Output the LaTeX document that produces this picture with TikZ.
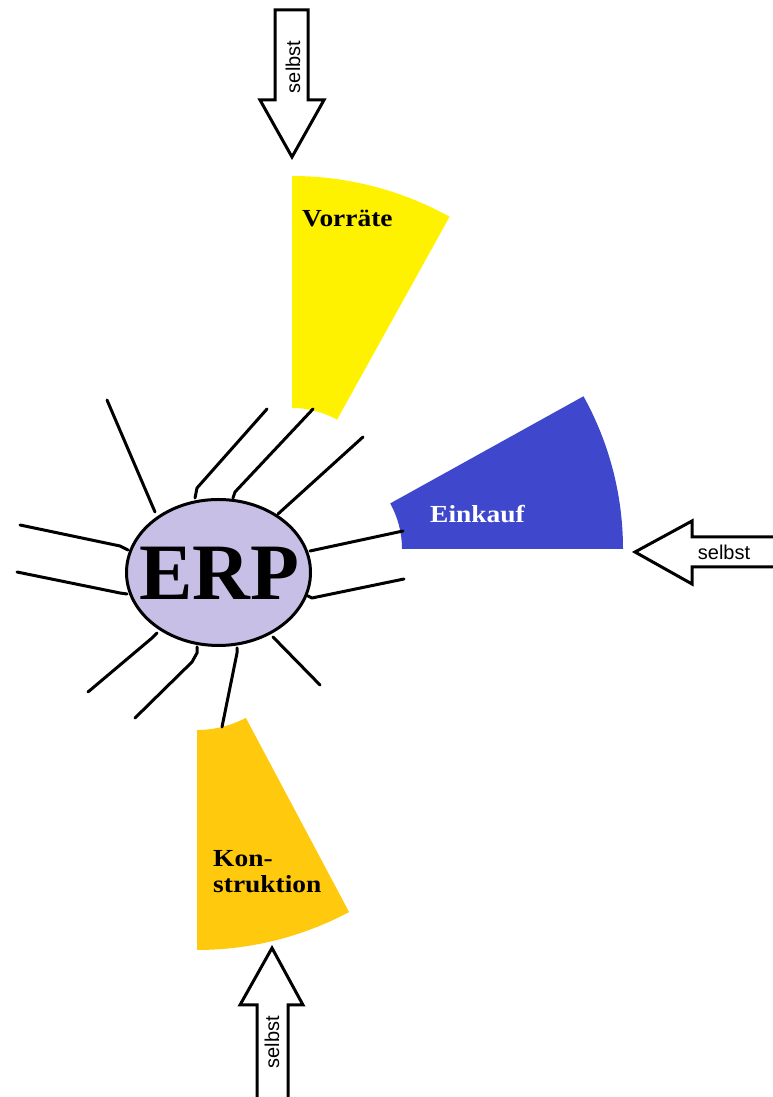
\documentclass[tikz,border=0pt]{standalone}
\usepackage{fontspec}
\setmainfont{Liberation Serif}
\newfontfamily\labfont[FakeStretch=1.12]{Liberation Serif}
\newfontfamily\arrfont{Liberation Sans}
\usetikzlibrary{shapes.geometric}
\definecolor{vorr}{HTML}{FFF200}
\definecolor{eink}{HTML}{3F48CC}
\definecolor{konst}{HTML}{FFC90E}
\definecolor{erpfill}{HTML}{C8BFE7}
\begin{document}
\begin{tikzpicture}[x=1pt,y=1pt,
 ray/.style={line width=3pt, line join=round, line cap=round},
 bigarrow/.style={draw=black, fill=white, line width=3pt, line join=miter},
 arrlabel/.style={font=\arrfont\fontsize{20}{20}\selectfont, inner sep=0},
 seclabel/.style={font=\labfont\bfseries\fontsize{24.5}{26}\selectfont, inner sep=0, anchor=base west, align=left},
]
\useasboundingbox (0,0) rectangle (773,1097);
% sectors
\fill[vorr] (292,596) ++(61:325) arc[start angle=61,end angle=90,radius=325]
  -- ([shift={(90:93)}]292,596) arc[start angle=90,end angle=61,radius=93] -- cycle;
\fill[eink] (308,548) ++(0:315) arc[start angle=0,end angle=29,radius=315]
  -- ([shift={(29:94)}]308,548) arc[start angle=29,end angle=0,radius=94] -- cycle;
\fill[konst] (197,471) ++(-90:324) arc[start angle=-90,end angle=-62,radius=324]
  -- ([shift={(-62:104)}]197,471) arc[start angle=-62,end angle=-90,radius=104] -- cycle;
% rays
\coordinate (r1) at (107,697);
\coordinate (r2) at (267,688);
\coordinate (r3) at (313,688);
\coordinate (r4) at (363,660);
\coordinate (r5) at (20,572);
\coordinate (r6) at (17,525);
\coordinate (r7) at (403,566);
\coordinate (r8) at (404,518);
\coordinate (r9) at (88,405);
\coordinate (r10) at (135,379);
\coordinate (r11) at (222,370);
\coordinate (r12) at (320,412);
\draw[ray] (r1) -- (155,585);
\draw[ray] (r2) -- (197,609) -- (195,599);
\draw[ray] (r3) -- (235,605) -- (233,599);
\draw[ray] (r4) -- (278,583);
\draw[ray] (r5) -- (120,551) -- (128,547);
\draw[ray] (r6) -- (120,504) -- (127,503);
\draw[ray] (r7) -- (310,546);
\draw[ray] (r8) -- (312,499) -- (308,501);
\draw[ray] (r9) -- (152,459) -- (157,464);
\draw[ray] (r10) -- (192,435) -- (197,444) -- (197,450);
\draw[ray] (r11) -- (237,444) -- (237,449);
\draw[ray] (r12) -- (273,460);
% ERP ellipse
\node[ellipse, draw, line width=3pt, fill=erpfill, minimum width=184, minimum height=146, inner sep=0] (erp) at (218.5,524.5) {};
\node[font=\bfseries\fontsize{80}{80}\selectfont, anchor=base, inner sep=0] (erptext) at (219,497) {ERP};
% labels
\node[seclabel] (vorraete) at (302,870) {Vorräte};
\node[seclabel, text=white] (einkauf) at (430,574) {Einkauf};
\node[seclabel] (konstruktion) at (213,204) {Kon-\\struktion};
% arrows
\draw[bigarrow] (275,1087) -- (308,1087) -- (308,997) -- (324,997) -- (292,940) -- (260,997) -- (275,997) -- cycle;
\node[arrlabel, rotate=90] (selbst1) at (293,1030) {selbst};
\fill[white] (776,560) -- (692,560) -- (692,576) -- (635,545) -- (692,513) -- (692,530) -- (776,530) -- cycle;
\draw[line width=3pt, line join=miter] (776,560) -- (692,560) -- (692,576) -- (635,545) -- (692,513) -- (692,530) -- (776,530);
\node[arrlabel] (selbst2) at (724,545) {selbst};
\fill[white] (257,-3) -- (257,92) -- (240,92) -- (272,149) -- (303,92) -- (288,92) -- (288,-3) -- cycle;
\draw[line width=3pt, line join=miter] (257,-3) -- (257,92) -- (240,92) -- (272,149) -- (303,92) -- (288,92) -- (288,-3);
\node[arrlabel, rotate=90] (selbst3) at (272,55) {selbst};
\end{tikzpicture}
\end{document}
